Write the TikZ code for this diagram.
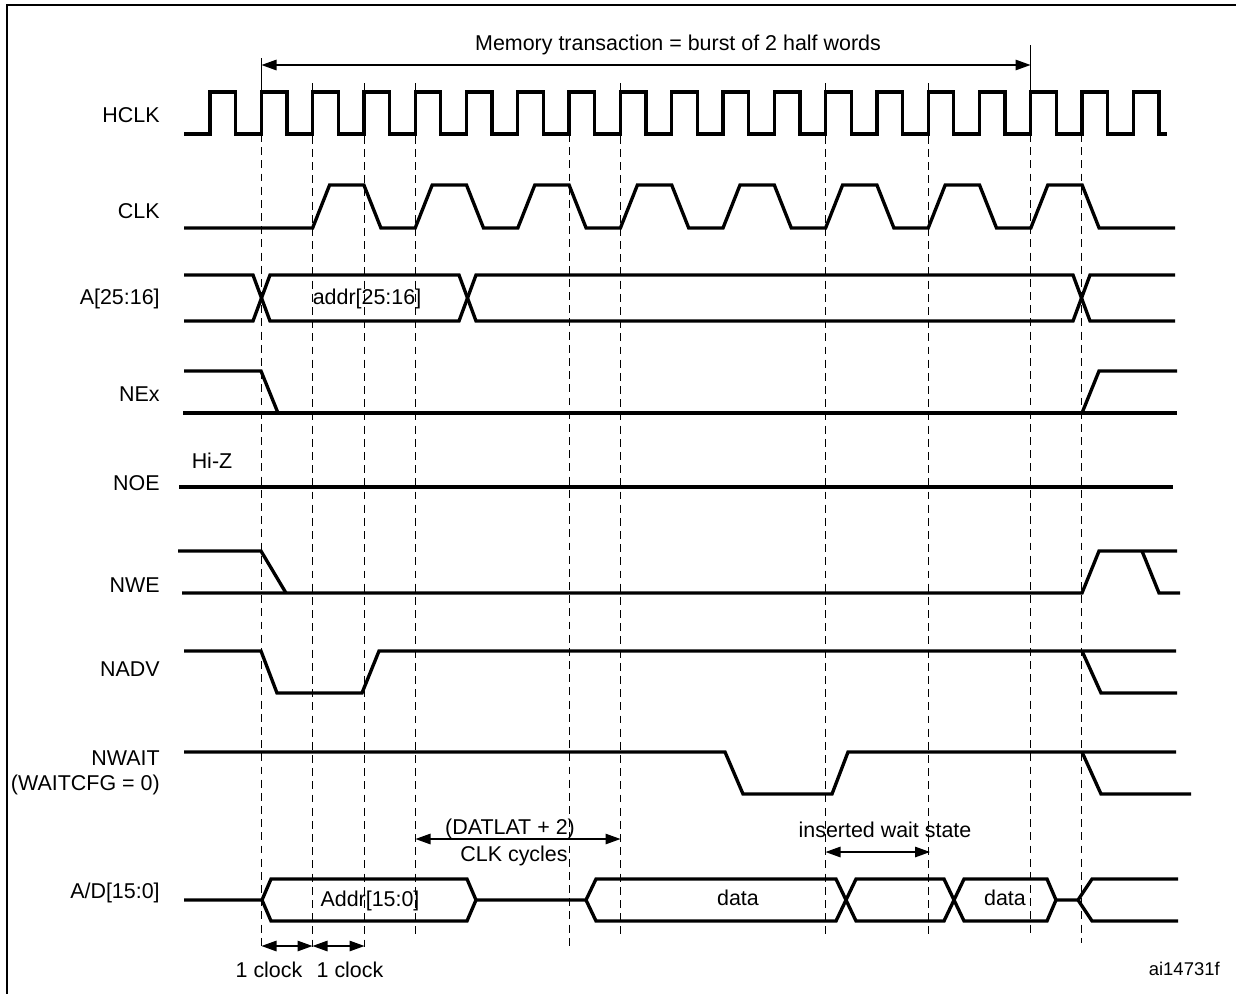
\documentclass[tikz,border=0pt]{standalone}
\usepackage{fontspec}
\setmainfont{Liberation Sans}
\usetikzlibrary{arrows.meta}

\tikzset{
  sig/.style = {line width = 1.9pt, line join = miter},
  guide/.style = {line width = 0.85pt, dash pattern = on 4.5pt off 3pt},
  dimarrow/.style = {line width = 0.75pt, {Triangle[length = 0.3cm, width = 0.21cm]}-{Triangle[length = 0.3cm, width = 0.21cm]}},
  lbl/.style = {font = \fontsize{12.2}{14}\selectfont, inner sep = 0pt, text height = 8.7pt, text depth = 0pt}
}

\begin{document}
\begin{tikzpicture} [x = 0.02cm, y = -0.02cm]
\useasboundingbox (0, 0) rectangle (1236, 994);
\draw[line width = 1.2pt] (1236, 5) -- (7, 5) -- (7, 994);

\foreach \x/\ya/\yb in {261.5/134/950, 312.5/83/950, 364.5/83/950, 415.5/83/937, 569.5/134/948, 620.5/83/937, 825.5/83/937, 928.5/83/937, 1030.5/134/937, 1081.5/134/943}
  \draw[guide] (\x, \ya) -- (\x, \yb);

\draw[line width = 0.75pt] (261.5, 58) -- (261.5, 92);
\draw[line width = 0.75pt] (1030.5, 45) -- (1030.5, 92);
\coordinate (mt-l) at (261.5, 65);
\coordinate (mt-r) at (1030.5, 65);
\draw[dimarrow] (mt-l) -- (mt-r);
\node[lbl] (mt) at (678, 43){Memory transaction = burst of 2 half words};

\node[lbl, anchor = east] (hclk) at (160, 115){HCLK};
\draw[sig] (184, 134) \foreach \k in {0, ..., 18} { -- ({210 + 51.3*\k}, 134) -- ({210 + 51.3*\k}, 92) -- ({235.6 + 51.3*\k}, 92) -- ({235.6 + 51.3*\k}, 134)} -- (1167, 134);

\node[lbl, anchor = east] (clk) at (160, 211){CLK};
\draw[sig] (184, 228) \foreach \k in {0, ..., 7} { -- ({312.6 + 102.6*\k}, 228) -- ({329.6 + 102.6*\k}, 185) -- ({363.9 + 102.6*\k}, 185) -- ({380.9 + 102.6*\k}, 228)} -- (1175, 228);

\node[lbl, anchor = east] (addrhi) at (160, 297){A[25:16]};
\draw[sig] (184, 275) -- (253, 275) -- (270, 321) -- (459, 321) -- (476, 275) -- (1073, 275) -- (1090, 321) -- (1175, 321);
\draw[sig] (184, 321) -- (253, 321) -- (270, 275) -- (459, 275) -- (476, 321) -- (1073, 321) -- (1090, 275) -- (1175, 275);
\node[lbl] (addrhi-val) at (367, 297){addr[25:16]};

\node[lbl, anchor = east] (nex) at (160, 394){NEx};
\draw[sig] (184, 371) -- (261, 371) -- (278, 413);
\draw[sig] (183, 413) -- (1177, 413);
\draw[sig] (1082, 413) -- (1099, 371) -- (1177, 371);

\node[lbl, anchor = east] (noe) at (160, 483){NOE};
\node[lbl] (hiz) at (212, 461){Hi-Z};
\draw[sig] (179, 487) -- (1173, 487);

\node[lbl, anchor = east] (nwe) at (160, 585){NWE};
\draw[sig] (178, 551) -- (261, 551) -- (286, 593);
\draw[sig] (182, 593) -- (1082, 593) -- (1099, 551) -- (1177, 551);
\draw[sig] (1142, 551) -- (1159, 593) -- (1180, 593);

\node[lbl, anchor = east] (nadv) at (160, 669){NADV};
\draw[sig] (184, 651) -- (261, 651) -- (277, 693) -- (362, 693) -- (379, 651) -- (1176, 651);
\draw[sig] (1082, 651) -- (1101, 693) -- (1177, 693);

\node[lbl, anchor = east] (nwait) at (160, 758){NWAIT};
\node[lbl, anchor = east] (waitcfg) at (160, 783){(WAITCFG = 0)};
\draw[sig] (184, 752) -- (725, 752) -- (743, 794) -- (832, 794) -- (848, 752) -- (1176, 752);
\draw[sig] (1082, 752) -- (1101, 794) -- (1191, 794);

\coordinate (dl-l) at (415.5, 839);
\coordinate (dl-r) at (620.5, 839);
\draw[dimarrow] (dl-l) -- (dl-r);
\node[lbl] (datlat) at (510, 827){(DATLAT + 2)};
\node[lbl] (cycles) at (514, 854){CLK cycles};

\coordinate (ws-l) at (825.5, 852);
\coordinate (ws-r) at (930, 852);
\draw[dimarrow] (ws-l) -- (ws-r);
\node[lbl] (wait) at (885, 830){inserted wait state};

\node[lbl, anchor = east] (ad) at (160, 891){A/D[15:0]};
\draw[sig] (184, 900) -- (262, 900) -- (271, 879) -- (467, 879) -- (476, 900) -- (467, 921) -- (271, 921) -- (262, 900);
\draw[sig] (476, 900) -- (586, 900) -- (596, 879) -- (836, 879) -- (856, 921) -- (944, 921) -- (964, 879) -- (1047, 879) -- (1056, 900) -- (1047, 921) -- (964, 921) -- (944, 879) -- (856, 879) -- (836, 921) -- (596, 921) -- (586, 900);
\draw[sig] (1056, 900) -- (1078, 900) -- (1092, 879) -- (1178, 879);
\draw[sig] (1078, 900) -- (1092, 921) -- (1178, 921);
\node[lbl] (ad-addr) at (370, 899){Addr[15:0]};
\node[lbl] (ad-data1) at (738, 898){data};
\node[lbl] (ad-data2) at (1005, 898){data};

\coordinate (c1) at (261.5, 946);
\coordinate (c2) at (312.5, 946);
\coordinate (c3) at (364.5, 946);
\draw[dimarrow] (c1) -- (c2);
\draw[dimarrow] (c2) -- (c3);
\node[lbl] (clock1) at (269, 970){1 clock};
\node[lbl] (clock2) at (350, 970){1 clock};

\node[lbl, font = \fontsize{10.5}{12}\selectfont, anchor = east] (ref) at (1220, 968){ai14731f};
\end{tikzpicture}
\end{document}
